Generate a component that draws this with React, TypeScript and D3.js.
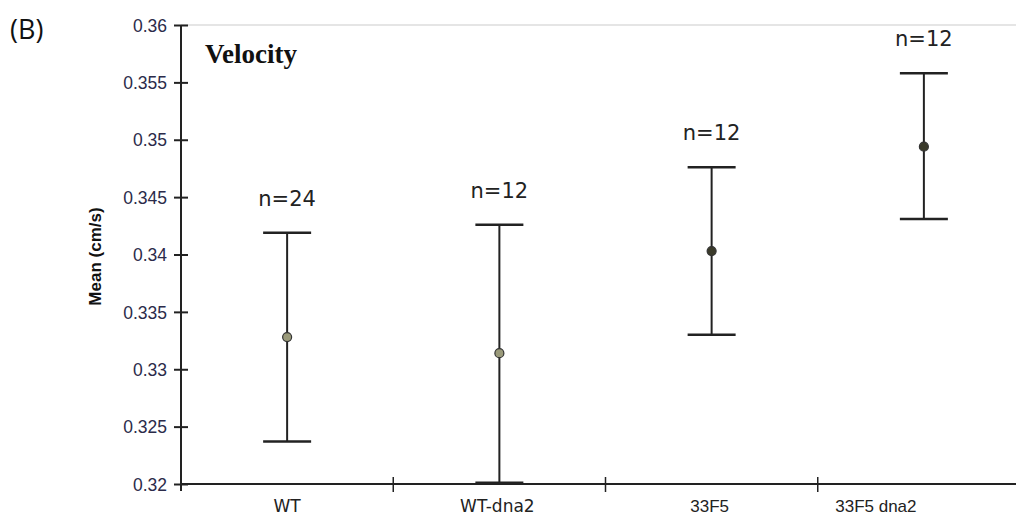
import React, { useEffect, useRef } from 'react';
import * as d3 from 'd3';

const categories = ['WT', 'WT-dna2', '33F5', '33F5 dna2'];
const means = [0.3328, 0.3314, 0.3403, 0.3494];
const lows = [0.3237, 0.3201, 0.3330, 0.3431];
const highs = [0.3419, 0.3426, 0.3476, 0.3558];
const counts = ['n=24', 'n=12', 'n=12', 'n=12'];
const yTicks = [0.32, 0.325, 0.33, 0.335, 0.34, 0.345, 0.35, 0.355, 0.36];

export default function App() {
  const svgRef = useRef<SVGSVGElement>(null);
  const W = 1016, H = 525;
  const L = 181, R = 1030, T = 25, B = 484;

  useEffect(() => {
    const svg = d3.select(svgRef.current);
    svg.selectAll('*').remove();

    const x = d3.scaleBand().domain(categories).range([L, R]).padding(0);
    const y = d3.scaleLinear().domain([0.32, 0.36]).range([B, T]);
    const cx = (c: string) => x(c)! + x.bandwidth() / 2;

    // top frame line
    svg.append('line').attr('x1', L).attr('x2', W).attr('y1', T).attr('y2', T)
      .attr('stroke', '#dcdcdc').attr('stroke-width', 1.5);

    // y axis
    const ya = svg.append('g').attr('transform', `translate(${L},0)`)
      .call(d3.axisLeft(y).tickValues(yTicks).tickSize(7).tickFormat(d => String(+d)));
    ya.attr('font-size', null).attr('font-family', null);
    ya.select('.domain').remove();
    ya.selectAll('.tick line').attr('x2', 0).attr('x1', -7).attr('stroke', '#222').attr('stroke-width', 2);
    ya.selectAll('.tick line').clone().attr('x1', 0).attr('x2', 7);
    ya.selectAll('text').attr('x', -14).attr('dy', '0.35em').attr('fill', '#2b2b4a')
      .style('font-size', '17.5px').style('font-family', 'Liberation Sans, Arial, sans-serif');
    svg.append('line').attr('x1', L).attr('x2', L).attr('y1', T).attr('y2', B + 7)
      .attr('stroke', '#222').attr('stroke-width', 2);

    // x axis
    svg.append('line').attr('x1', L).attr('x2', W).attr('y1', B).attr('y2', B)
      .attr('stroke', '#222').attr('stroke-width', 2);
    categories.slice(1).forEach(c => {
      svg.append('line').attr('x1', x(c)!).attr('x2', x(c)!).attr('y1', B - 7).attr('y2', B + 8)
        .attr('stroke', '#222').attr('stroke-width', 1.5);
    });
    const labelShift = [0, -2, -2, -48];
    categories.forEach((c, i) => {
      svg.append('text').attr('x', cx(c) + labelShift[i]).attr('y', B + 28)
        .attr('text-anchor', 'middle').style('font-size', '17px').attr('fill', '#222')
        .style('font-family', i < 2 ? 'DejaVu Sans, sans-serif' : 'Liberation Sans, Arial, sans-serif')
        .text(c);
    });

    // error bars
    categories.forEach((c, i) => {
      const px = cx(c);
      svg.append('line').attr('x1', px).attr('x2', px).attr('y1', y(highs[i])).attr('y2', y(lows[i]))
        .attr('stroke', '#222').attr('stroke-width', 2);
      [highs[i], lows[i]].forEach(v => {
        svg.append('line').attr('x1', px - 24).attr('x2', px + 24).attr('y1', y(v)).attr('y2', y(v))
          .attr('stroke', '#222').attr('stroke-width', 2.5);
      });
      svg.append('circle').attr('cx', px).attr('cy', y(means[i])).attr('r', 4.5)
        .attr('fill', i < 2 ? '#9a9a7a' : '#3a3a2a').attr('stroke', '#333').attr('stroke-width', 1.2);
      svg.append('text').attr('x', px).attr('y', y(highs[i]) - 27)
        .attr('text-anchor', 'middle').style('font-size', '21px').attr('fill', '#222')
        .style('font-family', 'DejaVu Sans, sans-serif').text(counts[i]);
    });

    // titles
    svg.append('text').attr('x', 205).attr('y', 63).style('font-size', '27px').attr('font-weight', 'bold')
      .style('font-family', 'Liberation Serif, Times New Roman, serif').attr('fill', '#111').text('Velocity');
    svg.append('text').attr('transform', `translate(101,${(T + B) / 2 + 2}) rotate(-90)`)
      .attr('text-anchor', 'middle').style('font-size', '17px').attr('font-weight', 'bold')
      .style('font-family', 'Liberation Sans, Arial, sans-serif').attr('fill', '#111').text('Mean (cm/s)');
    svg.append('text').attr('x', 10).attr('y', 39).style('font-size', '27px')
      .style('font-family', 'Open Sans, sans-serif').attr('fill', '#111').text('(B)');
  }, []);

  return (
    <svg ref={svgRef} width={W} height={H}
      style={{ position: 'absolute', left: 0, top: 0, background: '#fff' }} />
  );
}
